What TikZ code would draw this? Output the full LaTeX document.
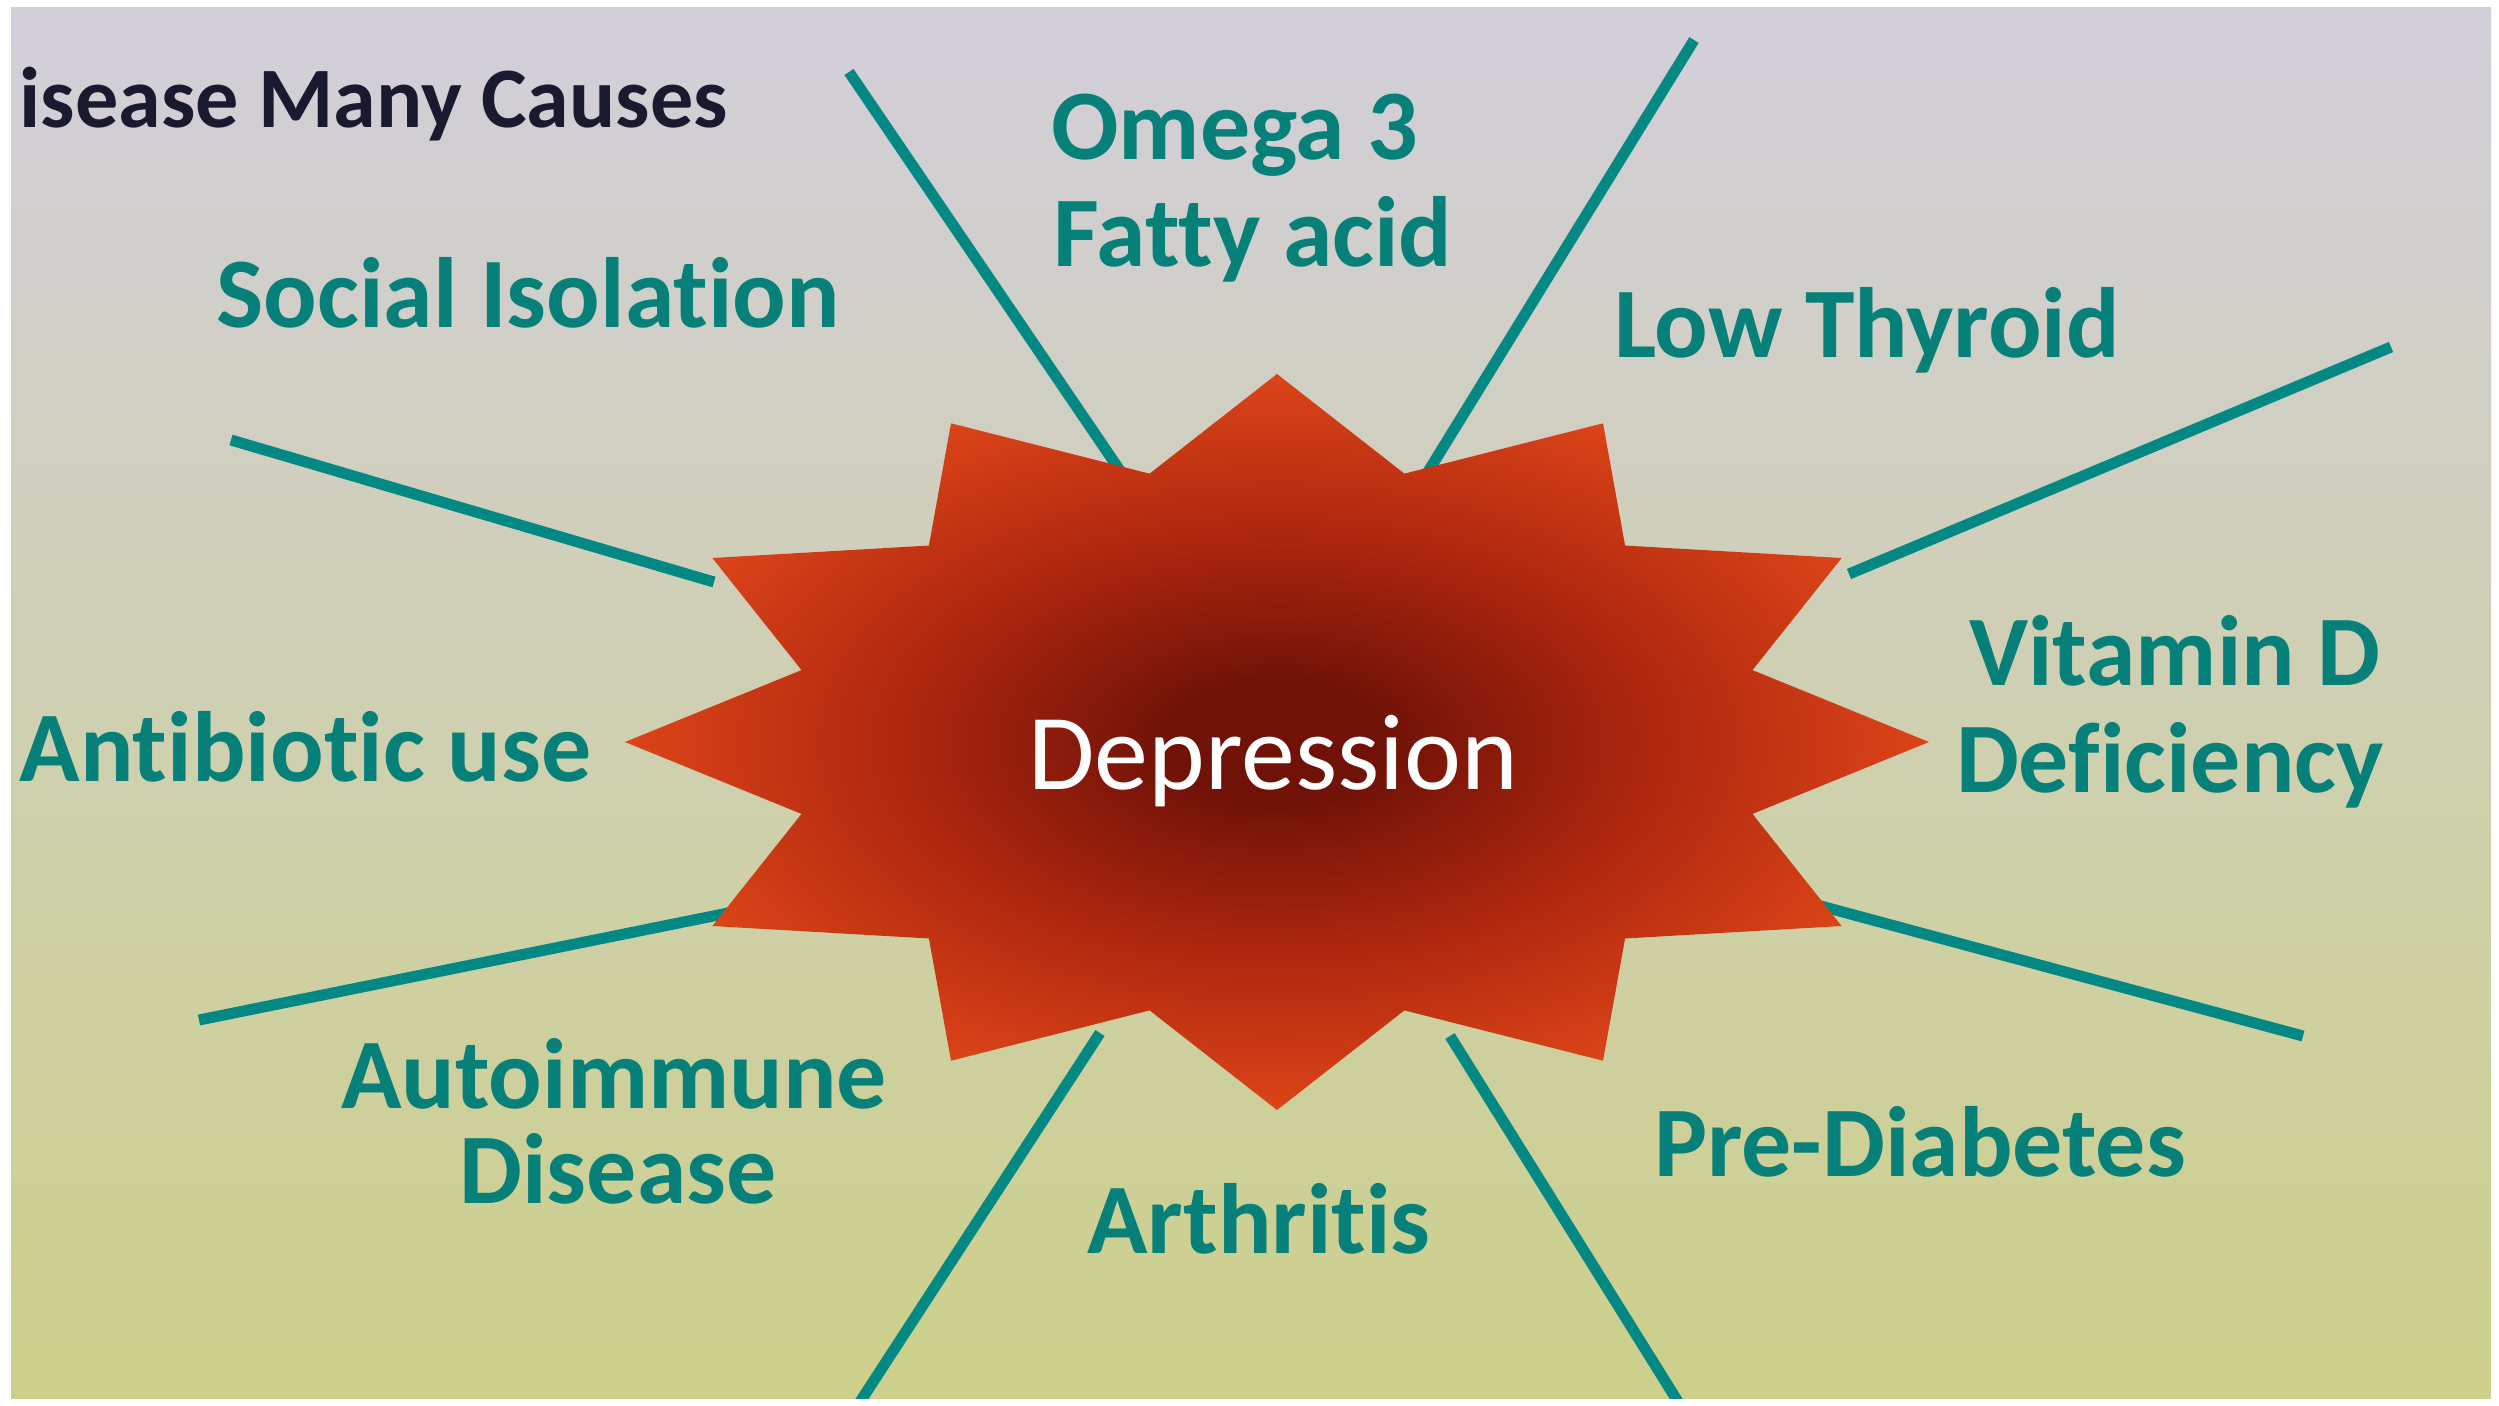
\documentclass[tikz,border=0pt]{standalone}
\usepackage{fontspec}
\setmainfont{Carlito}[Ligatures=NoCommon]
\definecolor{bgtop}{RGB}{210,207,218}
\definecolor{bgmid}{RGB}{224,224,208}
\definecolor{bgbot}{RGB}{204,208,138}
\definecolor{tealtxt}{RGB}{6,128,120}
\definecolor{tealline}{RGB}{4,136,132}
\definecolor{titlecol}{RGB}{25,25,48}
\definecolor{stardark}{RGB}{112,18,8}
\definecolor{starmid}{RGB}{172,38,14}
\definecolor{starout}{RGB}{220,68,24}
\pgfdeclareradialshading{starshade}{\pgfpoint{0bp}{0bp}}{%
  color(0bp)=(stardark); color(4bp)=(stardark); color(14bp)=(starmid);
  color(25bp)=(starout); color(50bp)=(starout)}
\tikzset{
  spoke/.style={draw=tealline, line width=0.11cm},
  cause/.style={font=\fontsize{28.4}{34}\selectfont\bfseries, text=tealtxt, inner sep=0pt, anchor=base},
  centre/.style={font=\fontsize{30.7}{36}\selectfont, text=white, inner sep=0pt, anchor=base},
  heading/.style={font=\fontsize{24.5}{30}\selectfont\bfseries, text=titlecol, inner sep=0pt, anchor=base west}
}
\begin{document}
\begin{tikzpicture}[x=0.01cm,y=-0.01cm]
\useasboundingbox (0,0) rectangle (2499,1405);
\fill[white] (0,0) rectangle (2499,1405);
\shade[top color=bgtop, middle color=bgmid, bottom color=bgbot] (11,7) rectangle (2491,1398);
% spokes
\coordinate (s1a) at (1125,478); \coordinate (s1b) at (849,72);
\coordinate (s2a) at (1426,475); \coordinate (s2b) at (1694,40);
\coordinate (s3a) at (1849,574); \coordinate (s3b) at (2391,347);
\coordinate (s4a) at (1817,905); \coordinate (s4b) at (2303,1036);
\coordinate (s5a) at (1450,1036); \coordinate (s5b) at (1680,1405);
\coordinate (s6a) at (1100,1033); \coordinate (s6b) at (858,1405);
\coordinate (s7a) at (733,912); \coordinate (s7b) at (199,1020);
\coordinate (s8a) at (714,582); \coordinate (s8b) at (231,440);
\begin{scope}
\clip (11,7) rectangle (2491,1398);
\foreach \i in {1,...,8} { \draw[spoke] (s\i a) -- (s\i b); }
\end{scope}
% star
\shade[shading=starshade]
  plot[samples=25, domain=0:24, variable=\k]
  ({1277+652*ifthenelse(mod(round(\k),2)==0,1,0.755)*cos(15*\k)},
   {742+368*ifthenelse(mod(round(\k),2)==0,1,0.755)*sin(15*\k)}) -- cycle;
\node[centre] (dep) at (1273,789) {Depression};
% labels
\node[heading] (title) at (19,127) {isease Many Causes};
\node[cause] (omega) at (1235,159) {Omega 3};
\node[cause] (fatty) at (1253,266) {Fatty acid};
\node[cause] (social) at (528,327) {Social Isolation};
\node[cause] (thyroid) at (1867,357) {Low Thyroid};
\node[cause] (vitd) at (2175,685) {Vitamin D};
\node[cause] (defic) at (2170,792) {Deficiency};
\node[cause, anchor=base west] (antib) at (19,781) {Antibiotic use};
\node[cause] (autoimm) at (614,1108) {Autoimmune};
\node[cause] (disease) at (618,1203) {Disease};
\node[cause] (arth) at (1259,1253) {Arthritis};
\node[cause] (prediab) at (1920,1176) {Pre-Diabetes};
\end{tikzpicture}
\end{document}
